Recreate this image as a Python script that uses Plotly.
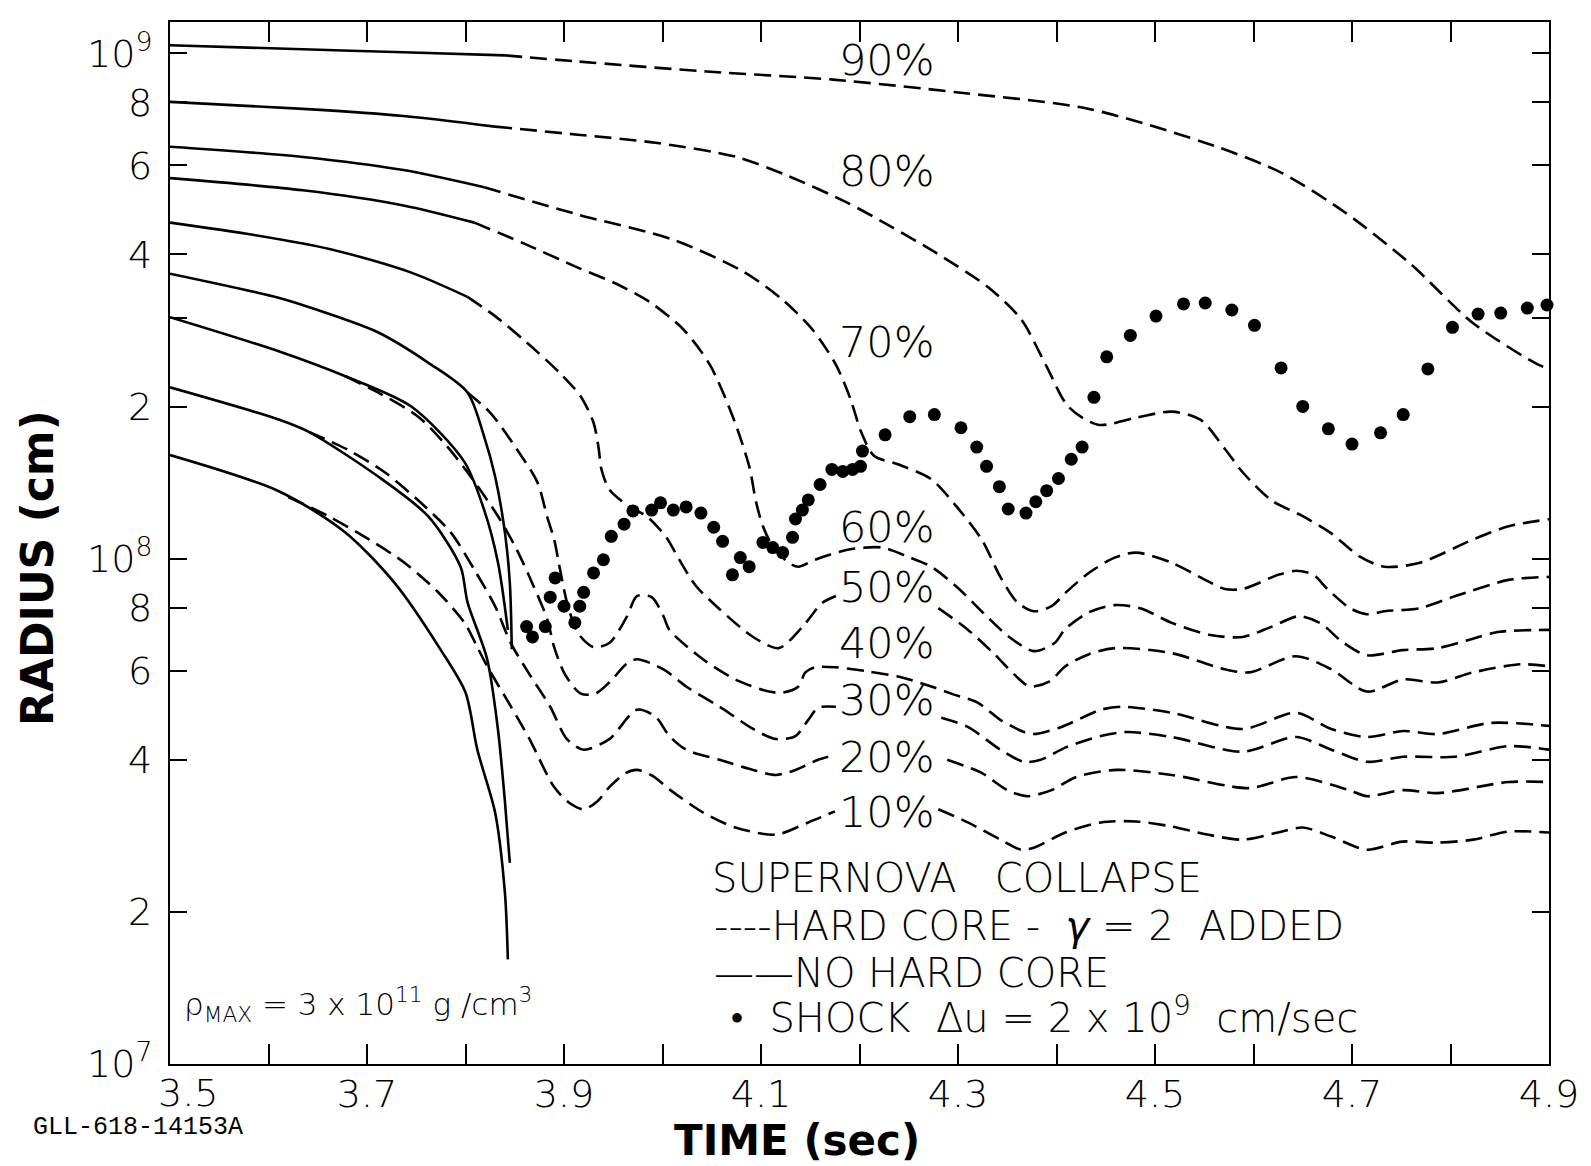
import plotly.graph_objects as go

# Mass-shell trajectories during the collapse: time (s) and log10 of radius (cm).
# "solid" = no hard core, "dash" = hard core with gamma = 2 added.
# None marks a break where the shell label sits on the curve.

t90_solid = [3.5, 3.635, 3.737, 3.840]
lr90_solid = [9.016, 9.008, 9.002, 8.996]
t90_dash = [3.840, 3.913, 4.045, 4.173, 4.303, 4.433, 4.563, 4.629, 4.693, 4.759, 4.823, 4.889, 4.9]
lr90_dash = [8.996, 8.984, 8.964, 8.948, 8.922, 8.890, 8.815, 8.763, 8.685, 8.584, 8.466, 8.384, 8.376]

t80_solid = [3.5, 3.635, 3.737, 3.830]
lr80_solid = [8.904, 8.890, 8.876, 8.855]
t80_dash = [3.830, 3.914, 3.993, 4.075, 4.128, 4.187, 4.232, 4.277, 4.330, 4.364, 4.390, 4.412, 4.442,
            4.481, 4.517, 4.546, 4.571, 4.589, 4.618, 4.650, 4.679, 4.708, 4.733, 4.769, 4.823, 4.859, 4.9]
lr80_dash = [8.855, 8.839, 8.823, 8.795, 8.757, 8.705, 8.657, 8.606, 8.538, 8.474, 8.380, 8.301, 8.265,
             8.279, 8.291, 8.275, 8.217, 8.171, 8.116, 8.084, 8.050, 8.004, 7.984, 7.992, 8.038, 8.064, 8.078]

t70_solid = [3.5, 3.635, 3.737, 3.819]
lr70_solid = [8.815, 8.795, 8.769, 8.735]
t70_dash = [3.819, 3.914, 4.011, 4.082, 4.121, 4.152, 4.176, 4.191, 4.202, 4.215, 4.239, 4.273, 4.299,
            4.324, 4.343, 4.360, 4.377, 4.395, 4.410, 4.433, 4.459, 4.481, 4.517, 4.553, 4.571, 4.589,
            4.625, 4.643, 4.661, 4.675, 4.698, 4.715, 4.733, 4.769, 4.805, 4.859, 4.9]
lr70_dash = [8.735, 8.681, 8.631, 8.568, 8.514, 8.454, 8.384, 8.315, 8.249, 8.203, 8.187, 8.157, 8.102,
             8.038, 7.964, 7.914, 7.896, 7.906, 7.934, 7.972, 8.002, 8.012, 7.992, 7.956, 7.940, 7.940,
             7.968, 7.976, 7.968, 7.940, 7.902, 7.890, 7.896, 7.902, 7.926, 7.958, 7.964]

t60_solid = [3.5, 3.635, 3.737, 3.809]
lr60_solid = [8.753, 8.729, 8.699, 8.665]
t60_dash = [3.809, 3.859, 3.914, 3.953, 3.987, 4.021, 4.048, 4.071, 4.088, 4.095, 4.102, 4.112, 4.128,
            4.138, 4.155, 4.189, 4.223, 4.249, 4.273, 4.300, 4.326, 4.352, 4.377, 4.398, 4.409, 4.433,
            4.459, 4.485, 4.517, 4.556, 4.589, 4.618, 4.646, 4.669, 4.689, 4.715, 4.751, 4.787, 4.822,
            4.848, 4.9]
lr60_dash = [8.665, 8.624, 8.576, 8.544, 8.508, 8.454, 8.384, 8.283, 8.183, 8.112, 8.064, 8.024, 7.992,
             7.984, 7.998, 8.018, 8.022, 8.004, 7.984, 7.942, 7.892, 7.845, 7.817, 7.833, 7.861, 7.894,
             7.908, 7.902, 7.873, 7.849, 7.845, 7.865, 7.886, 7.871, 7.837, 7.809, 7.819, 7.823, 7.841,
             7.855, 7.859]

t50_solid = [3.5, 3.584, 3.664, 3.745, 3.802]
lr50_solid = [8.665, 8.641, 8.612, 8.566, 8.518]
t50_dash = [3.802, 3.830, 3.862, 3.896, 3.917, 3.930, 3.935, 3.938, 3.946, 3.967, 3.984, 4.004, 4.017,
            4.034, 4.058, 4.092, 4.118, 4.142, 4.162, 4.176, None, 4.280, 4.309, 4.337, 4.357, 4.373,
            4.393, 4.409, 4.433, 4.459, 4.517, 4.571, 4.596, 4.643, 4.679, 4.715, 4.752, 4.787, 4.823,
            4.871, 4.9]
lr50_dash = [8.518, 8.480, 8.428, 8.367, 8.321, 8.269, 8.221, 8.177, 8.137, 8.102, 8.084, 8.042, 7.998,
             7.946, 7.900, 7.845, 7.823, 7.865, 7.912, 7.926, None, 7.902, 7.861, 7.811, 7.771, 7.747,
             7.757, 7.787, 7.811, 7.823, 7.813, 7.781, 7.775, 7.807, 7.781, 7.737, 7.761, 7.755, 7.775,
             7.791, 7.787]

t40_solid = [3.5, 3.611, 3.650, 3.711, 3.762, 3.802, 3.819, 3.830, 3.840, 3.845, 3.847]
lr40_solid = [8.564, 8.516, 8.492, 8.448, 8.388, 8.329, 8.241, 8.163, 8.052, 7.952, 7.821]
t40_dash = [3.802, 3.825, 3.852, 3.873, 3.883, 3.890, 3.896, 3.903, 3.914, 3.930, 3.946, 3.964, 3.974,
            3.989, 4.001, 4.007, 4.041, 4.074, 4.108, 4.122, 4.138, 4.145, 4.155, 4.176, 4.208, 4.243,
            4.276, 4.296, 4.320, 4.343, 4.367, 4.377, 4.405, 4.445, 4.467, 4.517, 4.589, 4.643, 4.679,
            4.715, 4.752, 4.787, 4.841, 4.9]
lr40_dash = [8.329, 8.289, 8.217, 8.151, 8.082, 8.038, 7.978, 7.914, 7.853, 7.825, 7.833, 7.886, 7.926,
             7.924, 7.886, 7.859, 7.801, 7.761, 7.737, 7.735, 7.747, 7.775, 7.785, 7.785, 7.777, 7.765,
             7.745, 7.731, 7.715, 7.681, 7.657, 7.653, 7.667, 7.701, 7.707, 7.695, 7.663, 7.695, 7.663,
             7.647, 7.659, 7.653, 7.675, 7.669]

t30_solid = [3.5, 3.611, 3.678, 3.745, 3.799, 3.819, 3.833, 3.843]
lr30_solid = [8.478, 8.410, 8.361, 8.301, 8.191, 8.096, 7.992, 7.859]
t30_dash = [3.678, 3.711, 3.752, 3.781, 3.805, 3.833, 3.852, 3.869, 3.883, 3.890, 3.901, 3.917, 3.932,
            3.947, 3.963, 3.974, 4.001, 4.024, 4.058, 4.092, 4.115, 4.135, 4.148, 4.158, 4.176, None,
            4.283, 4.310, 4.343, 4.367, 4.384, 4.410, 4.445, 4.471, 4.517, 4.589, 4.643, 4.679, 4.715,
            4.752, 4.805, 4.859, 4.9]
lr30_dash = [8.361, 8.329, 8.281, 8.223, 8.163, 8.084, 8.018, 7.946, 7.880, 7.825, 7.771, 7.733, 7.733,
             7.757, 7.791, 7.801, 7.781, 7.747, 7.707, 7.663, 7.643, 7.649, 7.681, 7.705, 7.707, None,
             7.685, 7.667, 7.622, 7.598, 7.602, 7.627, 7.649, 7.657, 7.647, 7.618, 7.647, 7.622, 7.598,
             7.608, 7.608, 7.629, 7.622]

t20_solid = [3.5, 3.611, 3.641, 3.711, 3.762, 3.795, 3.802, 3.822, 3.833, 3.840, 3.845]
lr20_solid = [8.339, 8.275, 8.251, 8.163, 8.084, 7.984, 7.914, 7.801, 7.661, 7.520, 7.398]
t20_dash = [3.641, 3.681, 3.718, 3.755, 3.785, 3.809, 3.830, 3.846, 3.865, 3.886, 3.903, 3.920, 3.946,
            3.974, 3.993, 4.007, 4.024, 4.058, 4.092, 4.115, 4.135, 4.158, 4.176, None, 4.289, 4.324,
            4.350, 4.370, 4.395, 4.420, 4.461, 4.517, 4.596, 4.643, 4.697, 4.715, 4.752, 4.787, 4.859, 4.9]
lr20_dash = [8.251, 8.215, 8.171, 8.110, 8.052, 7.978, 7.906, 7.833, 7.771, 7.707, 7.643, 7.622, 7.643,
             7.701, 7.687, 7.649, 7.622, 7.602, 7.582, 7.572, 7.582, 7.602, 7.612, None, 7.602, 7.576,
             7.542, 7.530, 7.542, 7.568, 7.582, 7.572, 7.546, 7.568, 7.542, 7.530, 7.542, 7.536, 7.558, 7.558]

t10_solid = [3.5, 3.611, 3.678, 3.728, 3.775, 3.800, 3.812, 3.830, 3.840, 3.843]
lr10_solid = [8.205, 8.133, 8.052, 7.952, 7.819, 7.735, 7.622, 7.498, 7.339, 7.207]
t10_dash = [3.620, 3.661, 3.702, 3.738, 3.772, 3.799, 3.812, 3.822, 3.845, 3.865, 3.890, 3.906, 3.920,
            3.934, 3.946, 3.963, 3.974, 3.990, 4.008, 4.041, 4.074, 4.115, 4.148, 4.175, None, 4.280,
            4.310, 4.343, 4.364, 4.377, 4.409, 4.445, 4.481, 4.517, 4.553, 4.589, 4.625, 4.650, 4.679,
            4.715, 4.751, 4.787, 4.823, 4.859, 4.9]
lr10_dash = [8.122, 8.084, 8.038, 7.992, 7.934, 7.873, 7.825, 7.787, 7.711, 7.643, 7.548, 7.516, 7.504,
             7.520, 7.548, 7.576, 7.582, 7.570, 7.542, 7.498, 7.468, 7.454, 7.478, 7.500, None, 7.504,
             7.478, 7.444, 7.424, 7.428, 7.458, 7.478, 7.480, 7.470, 7.454, 7.444, 7.458, 7.468, 7.450,
             7.424, 7.440, 7.438, 7.444, 7.460, 7.458]

# Shock position (velocity jump of 2e9 cm/s): time (s) and radius in units of 1e8 cm
shock_t = [3.862, 3.868, 3.881, 3.886, 3.891, 3.900, 3.911, 3.916, 3.920, 3.930,
           3.940, 3.948, 3.961, 3.970, 3.989, 3.998, 4.011, 4.024, 4.039, 4.052,
           4.061, 4.071, 4.079, 4.088, 4.102, 4.112, 4.122, 4.132, 4.135, 4.142,
           4.148, 4.160, 4.172, 4.183, 4.193, 4.201, 4.203, 4.226, 4.251, 4.276,
           4.303, 4.319, 4.329, 4.342, 4.351, 4.369, 4.379, 4.390, 4.402, 4.415,
           4.426, 4.438, 4.451, 4.475, 4.501, 4.529, 4.551, 4.578, 4.601, 4.628,
           4.650, 4.676, 4.700, 4.729, 4.752, 4.777, 4.802, 4.828, 4.851, 4.878, 4.898]
shock_r8 = [0.734, 0.700, 0.734, 0.839, 0.916, 0.805, 0.747, 0.805, 0.858, 0.937,
            0.995, 1.107, 1.170, 1.243, 1.248, 1.290, 1.248, 1.266, 1.231, 1.154,
            1.082, 0.929, 1.005, 0.964, 1.077, 1.052, 1.028, 1.102, 1.198, 1.248,
            1.307, 1.402, 1.502, 1.488, 1.502, 1.523, 1.633, 1.758, 1.910, 1.928,
            1.816, 1.663, 1.523, 1.388, 1.254, 1.231, 1.296, 1.363, 1.441, 1.573,
            1.663, 2.086, 2.509, 2.766, 3.020, 3.192, 3.206, 3.105, 2.896, 2.385,
            2.001, 1.807, 1.686, 1.774, 1.928, 2.374, 2.870, 3.048, 3.062, 3.133, 3.177]

# Shell labels (mass fraction) and where they sit: time (s), log10 radius
shell_labels = ["90%", "80%", "70%", "60%", "50%", "40%", "30%", "20%", "10%"]
label_t = [4.228, 4.228, 4.228, 4.228, 4.228, 4.228, 4.228, 4.228, 4.228]
label_lr = [8.986, 8.767, 8.428, 8.062, 7.944, 7.833, 7.721, 7.608, 7.498]

# Axis ticks: labelled major ticks plus unlabelled minor ones
x_ticks = [3.7, 3.9, 4.1, 4.3, 4.5, 4.7, 4.9]
x_ticktext = ["3.7", "3.9", "4.1", "4.3", "4.5", "4.7", "4.9"]
x_minor_ticks = [3.6, 3.8, 4.0, 4.2, 4.4, 4.6, 4.8]
y_ticks = [1e7, 2e7, 4e7, 6e7, 8e7, 1e8, 2e8, 4e8, 6e8, 8e8, 1e9]
y_ticktext = ["10<sup>7</sup>", "2", "4", "6", "8", "10<sup>8</sup>", "2", "4", "6", "8", "10<sup>9</sup>"]
y_minor_ticks = [3e8]

FONT = "DejaVu Sans"
INK = "black"
LINE_W = 2.6


def radius(log_values):
    return [None if v is None else 10 ** v for v in log_values]


shells = [
    (t90_solid, lr90_solid, t90_dash, lr90_dash),
    (t80_solid, lr80_solid, t80_dash, lr80_dash),
    (t70_solid, lr70_solid, t70_dash, lr70_dash),
    (t60_solid, lr60_solid, t60_dash, lr60_dash),
    (t50_solid, lr50_solid, t50_dash, lr50_dash),
    (t40_solid, lr40_solid, t40_dash, lr40_dash),
    (t30_solid, lr30_solid, t30_dash, lr30_dash),
    (t20_solid, lr20_solid, t20_dash, lr20_dash),
    (t10_solid, lr10_solid, t10_dash, lr10_dash),
]

fig = go.Figure()
for ts, ls, td, ld in shells:
    fig.add_trace(go.Scatter(x=ts, y=radius(ls), mode="lines",
                             line=dict(color=INK, width=LINE_W, shape="spline", smoothing=0.8),
                             hoverinfo="skip"))
    fig.add_trace(go.Scatter(x=td, y=radius(ld), mode="lines", connectgaps=False,
                             line=dict(color=INK, width=LINE_W, dash="17px,8px",
                                       shape="spline", smoothing=0.8),
                             hoverinfo="skip"))

fig.add_trace(go.Scatter(x=shock_t, y=[v * 1e8 for v in shock_r8], mode="markers",
                         marker=dict(color=INK, size=13, line=dict(width=0)),
                         cliponaxis=False, hoverinfo="skip"))

annotations = []
for text, t, lr in zip(shell_labels, label_t, label_lr):
    annotations.append(dict(x=t, y=lr, xref="x", yref="y", text=text, showarrow=False,
                            xanchor="center", yanchor="middle",
                            font=dict(family=FONT, size=43, color=INK, weight=200)))

legend_font = dict(family=FONT, size=40, color=INK, weight=200)
legend_rows = [
    (4.048, 7.369, "SUPERNOVA\u00a0\u00a0\u00a0COLLAPSE"),
    (4.050, 7.273, "----HARD CORE -\u00a0\u00a0<i>\u03b3</i> = 2\u00a0\u00a0ADDED"),
    (4.050, 7.181, "\u2014\u2014NO HARD CORE"),
    (4.066, 7.096, "\u2022\u00a0\u00a0SHOCK\u00a0\u00a0\u0394u = 2 x 10<sup>9</sup>\u00a0\u00a0cm/sec"),
]
for t, lr, text in legend_rows:
    annotations.append(dict(x=t, y=lr, xref="x", yref="y", text=text, showarrow=False,
                            xanchor="left", yanchor="middle", font=legend_font))

annotations.append(dict(x=3.512, y=7.118, xref="x", yref="y",
                        text="\u03c1<sub>MAX</sub> = 3 x 10<sup>11</sup> g /cm<sup>3</sup>",
                        showarrow=False, xanchor="left", yanchor="middle",
                        font=dict(family=FONT, size=31, color=INK, weight=200)))

# first time label, nudged right of the axis corner
annotations.append(dict(x=3.5, y=-0.028, xref="x", yref="paper", text="3.5", showarrow=False,
                        xanchor="left", yanchor="middle", xshift=-14,
                        font=dict(family=FONT, size=38, color=INK, weight=200)))

annotations.append(dict(x=-0.0965, y=0.476, xref="paper", yref="paper", text="<b>RADIUS (cm)</b>",
                        textangle=-90, showarrow=False, xanchor="center", yanchor="middle",
                        font=dict(family=FONT, size=44, color=INK)))
annotations.append(dict(x=0.455, y=-0.073, xref="paper", yref="paper", text="<b>TIME (sec)</b>",
                        showarrow=False, xanchor="center", yanchor="middle",
                        font=dict(family=FONT, size=42, color=INK)))
annotations.append(dict(x=-0.1008, y=-0.0605, xref="paper", yref="paper", text="GLL-618-14153A",
                        showarrow=False, xanchor="left", yanchor="middle",
                        font=dict(family="Liberation Mono", size=25, color=INK)))

tick_font = dict(family=FONT, size=38, color=INK, weight=200)

fig.update_layout(
    width=1591, height=1166,
    margin=dict(l=170, r=32, t=22, b=102),
    paper_bgcolor="white", plot_bgcolor="white",
    showlegend=False,
    annotations=annotations,
    xaxis=dict(range=[3.5, 4.9], tickmode="array", tickvals=x_ticks, ticktext=x_ticktext,
               ticks="inside", ticklen=20, tickwidth=2.2, tickcolor=INK,
               minor=dict(tickmode="array", tickvals=x_minor_ticks, ticks="inside", ticklen=20,
                          tickwidth=2.2, tickcolor=INK, showgrid=False),
               showline=True, linewidth=2.2, linecolor=INK, mirror="ticks",
               showgrid=False, zeroline=False, tickfont=tick_font, ticklabelstandoff=-5),
    yaxis=dict(type="log", range=[7, 9.062], tickmode="array", tickvals=y_ticks, ticktext=y_ticktext,
               ticks="inside", ticklen=17, tickwidth=2.2, tickcolor=INK,
               minor=dict(tickmode="array", tickvals=y_minor_ticks, ticks="inside", ticklen=17,
                          tickwidth=2.2, tickcolor=INK, showgrid=False),
               showline=True, linewidth=2.2, linecolor=INK, mirror="ticks",
               showgrid=False, zeroline=False, tickfont=tick_font, ticklabelstandoff=8),
)

fig.write_html("out.html")
